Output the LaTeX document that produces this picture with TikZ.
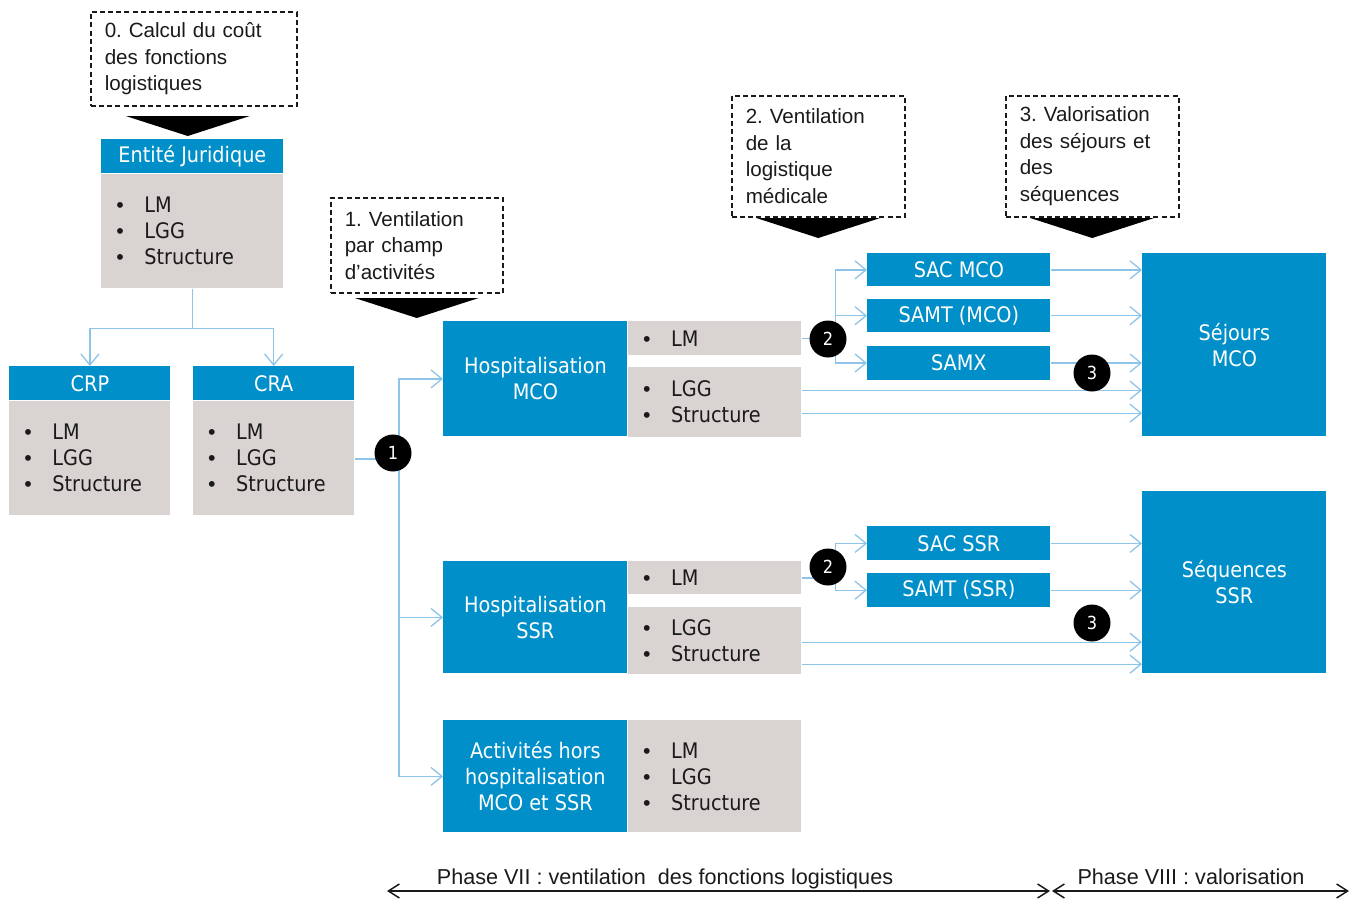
\documentclass[tikz,border=0pt]{standalone}
\usepackage{fontspec}
\setmainfont{Liberation Sans}
\newfontfamily\tahoma[FakeStretch=0.9]{DejaVu Sans}
\usepackage{tikz}
\usetikzlibrary{positioning,arrows.meta,calc}
\definecolor{BoxBlue}{HTML}{008FC9}
\definecolor{BoxGrey}{HTML}{D9D4D1}
\definecolor{LinkBlue}{HTML}{8DC4E8}
\definecolor{TextDark}{HTML}{1A1A1A}
\newcommand{\puce}[1]{\makebox[14pt][l]{\rmfamily\textbullet}#1}
\frenchspacing
\tikzset{
  stepnote/.style={draw=TextDark, dash pattern=on 2.5pt off 1.6pt, line width=0.75pt,
    anchor=north west, align=left, inner xsep=7pt, inner ysep=0pt, text=TextDark,
    font=\fontsize{10.3}{13.3}\selectfont},
  bluebox/.style={fill=BoxBlue, text=white, anchor=north west, align=center,
    inner sep=0pt, font=\tahoma\fontsize{10.7}{13}\selectfont},
  greybox/.style={fill=BoxGrey, text=TextDark, anchor=north west, align=left,
    inner xsep=7.5pt, inner ysep=0pt, font=\tahoma\fontsize{10.7}{13}\selectfont},
  num/.style={circle, fill=black, text=white, minimum size=18.5pt, inner sep=0pt,
    font=\tahoma\fontsize{9}{10}\selectfont},
  link/.style={draw=LinkBlue, line width=0.65pt, -{Straight Barb[length=5.5pt,width=9pt]}},
  phase/.style={draw=TextDark, line width=0.75pt,
    {Straight Barb[length=5.5pt,width=7pt]}-{Straight Barb[length=5.5pt,width=7pt]}},
  phaselabel/.style={anchor=base, text=TextDark, font=\fontsize{10.8}{12}\selectfont}
}

\begin{document}
\begin{tikzpicture}[x=0.5pt, y=-0.5pt]
  \useasboundingbox (0,0) rectangle (1356,900);

  % etapes
  \node[stepnote, text width=89pt, minimum height=47pt] (c0) at (90,11)
    {0. Calcul du coût\\des fonctions\\logistiques};
  \node[stepnote, text width=72pt, minimum height=47.5pt] (c1) at (330,197)
    {1. Ventilation\\par champ\\d’activités};
  \node[stepnote, text width=72.5pt, minimum height=60.5pt] (c2) at (731,95)
    {2. Ventilation\\de la\\logistique\\médicale};
  \node[stepnote, text width=72.5pt, minimum height=60.5pt] (c3) at (1005,95)
    {3. Valorisation\\des séjours et\\des\\séquences};
  \foreach \c/\t/\d in {c0/116/-6,c1/298/0,c2/218/0,c3/218/0}
    \fill[black] (\c.south |- 0,\t) ++(\d-62,0) -- ++(124,0) -- ++(-62,20) -- cycle;

  % entite juridique et budgets
  \node[bluebox, minimum width=91pt, minimum height=17pt] (ejh) at (101,139) {Entité Juridique};
  \node[greybox, text width=76pt, minimum height=57pt, below=0pt of ejh] (ejb)
    {\puce{LM}\\\puce{LGG}\\\puce{Structure}};
  \node[bluebox, minimum width=80.5pt, minimum height=17pt] (crph) at (9,366) {CRP};
  \node[greybox, text width=65.5pt, minimum height=57pt, below=0pt of crph] (crpb)
    {\puce{LM}\\\puce{LGG}\\\puce{Structure}};
  \node[bluebox, minimum width=80.5pt, minimum height=17pt, anchor=west, right=11pt of crph] (crah) {CRA};
  \node[greybox, text width=65.5pt, minimum height=57pt, below=0pt of crah] (crab)
    {\puce{LM}\\\puce{LGG}\\\puce{Structure}};

  % champs d'activites
  \node[bluebox, minimum width=92pt, minimum height=57.5pt] (hm) at (443,321) {Hospitalisation\\MCO};
  \node[greybox, text width=71.5pt, minimum height=17pt] (hmlm) at (hm.north east) {\puce{LM}};
  \node[greybox, text width=71.5pt, minimum height=35pt, below=5.5pt of hmlm] (hmlgg)
    {\puce{LGG}\\\puce{Structure}};
  \node[bluebox, minimum width=92pt, minimum height=56pt] (hs) at (443,561) {Hospitalisation\\SSR};
  \node[greybox, text width=71.5pt, minimum height=16.5pt] (hslm) at (hs.north east) {\puce{LM}};
  \node[greybox, text width=71.5pt, minimum height=33.5pt, below=6pt of hslm] (hslgg)
    {\puce{LGG}\\\puce{Structure}};
  \node[bluebox, minimum width=92pt, minimum height=56pt] (ha) at (443,720)
    {Activités hors\\hospitalisation\\MCO et SSR};
  \node[greybox, text width=71.5pt, minimum height=56pt] (halst) at (ha.north east)
    {\puce{LM}\\\puce{LGG}\\\puce{Structure}};

  % sections et valorisation
  \node[bluebox, minimum width=91.5pt, minimum height=16.5pt] (sacm) at (867,253) {SAC MCO};
  \node[bluebox, minimum width=91.5pt, minimum height=16.5pt, below=6pt of sacm] (samtm) {SAMT (MCO)};
  \node[bluebox, minimum width=91.5pt, minimum height=17pt, below=6.5pt of samtm] (samx) {SAMX};
  \node[bluebox, minimum width=92pt, minimum height=91.5pt] (sej) at (1142,253) {Séjours\\MCO};
  \node[bluebox, minimum width=91.5pt, minimum height=17pt] (sacs) at (867,526) {SAC SSR};
  \node[bluebox, minimum width=91.5pt, minimum height=17pt, below=6pt of sacs] (samts) {SAMT (SSR)};
  \node[bluebox, minimum width=92pt, minimum height=91pt] (seq) at (1142,491) {Séquences\\SSR};

  % liens
  \draw[link] (ejb.south) -- ++(0,40) -| (crph.north);
  \draw[link] (ejb.south) -- ++(0,40) -| (crah.north);

  \coordinate (t1) at (399,459);
  \draw[link,-] (crab.east |- t1) -- (t1);
  \foreach \s in {hm,hs,ha}
    \draw[link] (t1) |- (\s.west);

  \coordinate (t2a) at ([xshift=17pt]hmlm.east);
  \draw[link,-] (hmlm.east) -- (t2a);
  \foreach \s in {sacm,samtm,samx} {
    \draw[link] (t2a) |- (\s.west);
    \draw[link] (\s.east) -- (\s.east -| sej.west);
  }
  \coordinate (g1) at ([yshift=6pt]hmlgg.east);
  \coordinate (g2) at ([yshift=-5.5pt]hmlgg.east);
  \draw[link] (g1) -- (g1 -| sej.west);
  \draw[link] (g2) -- (g2 -| sej.west);

  \coordinate (t2b) at ([xshift=17pt]hslm.east);
  \draw[link,-] (hslm.east) -- (t2b);
  \foreach \s in {sacs,samts} {
    \draw[link] (t2b) |- (\s.west);
    \draw[link] (\s.east) -- (\s.east -| seq.west);
  }
  \coordinate (g3) at ([yshift=-0.75pt]hslgg.east);
  \coordinate (g4) at ([yshift=-11.75pt]hslgg.east);
  \draw[link] (g3) -- (g3 -| seq.west);
  \draw[link] (g4) -- (g4 -| seq.west);

  % pastilles
  \node[num] (n1) at (393,453) {1};
  \node[num] (n2a) at (828,339) {2};
  \node[num] (n3a) at (1092,373) {3};
  \node[num] (n2b) at (828,567) {2};
  \node[num] (n3b) at (1092,623) {3};

  % phases
  \coordinate (p7a) at (387,891);
  \coordinate (p7b) at (1050,891);
  \coordinate (p8a) at (1052,891);
  \coordinate (p8b) at (1349,891);
  \draw[phase] (p7a) -- (p7b);
  \draw[phase] (p8a) -- (p8b);
  \node[phaselabel] (ph7) at (665,884) {Phase VII : ventilation~ des fonctions logistiques};
  \node[phaselabel] (ph8) at (1191,884) {Phase VIII : valorisation};
\end{tikzpicture}
\end{document}
